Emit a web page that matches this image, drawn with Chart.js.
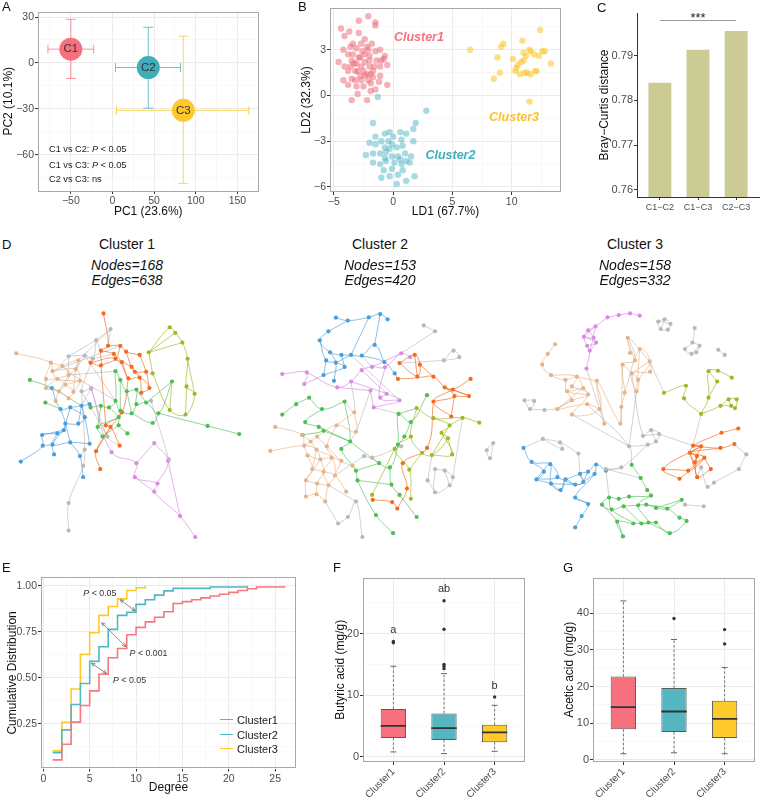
<!DOCTYPE html>
<html>
<head>
<meta charset="utf-8">
<script src="https://cdn.jsdelivr.net/npm/chart.js@4.4.1/dist/chart.umd.min.js"></script>
<style>
body{margin:0;background:#fff;font-family:"Liberation Sans",Arial,sans-serif;overflow:hidden;}
#fig{position:relative;width:760px;height:797px;overflow:hidden;}
canvas{position:absolute;}
.t{position:absolute;white-space:nowrap;color:#111;line-height:13px;}
.lt{font-size:13px;}
.dt{position:absolute;width:200px;text-align:center;font-size:14px;line-height:16px;color:#111;}
.ann{position:absolute;font-size:9.2px;line-height:12px;color:#222;white-space:nowrap;}
.lg{position:absolute;font-size:11px;line-height:14px;color:#222;}
.ln{position:absolute;width:13px;height:0;border-top:1.6px solid;}
</style>
</head>
<body>
<div id="fig">
<canvas id="pca" width="270" height="222" style="left:0;top:0"></canvas>
<canvas id="lda" width="275" height="222" style="left:290px;top:0"></canvas>
<canvas id="bray" width="180" height="222" style="left:580px;top:0"></canvas>
<canvas id="net1" width="260" height="290" style="left:0;top:290px"></canvas>
<canvas id="net2" width="260" height="290" style="left:255px;top:290px"></canvas>
<canvas id="net3" width="255" height="290" style="left:505px;top:290px"></canvas>
<canvas id="cdf" width="300" height="227" style="left:0;top:570px"></canvas>
<canvas id="but" width="230" height="227" style="left:300px;top:570px"></canvas>
<canvas id="ace" width="230" height="227" style="left:530px;top:570px"></canvas>

<div class="t lt" style="left:2px;top:0">A</div>
<div class="t lt" style="left:298px;top:0">B</div>
<div class="t lt" style="left:597px;top:1px">C</div>
<div class="t lt" style="left:2px;top:238px">D</div>
<div class="t lt" style="left:2px;top:561px">E</div>
<div class="t lt" style="left:333px;top:561px">F</div>
<div class="t lt" style="left:563px;top:561px">G</div>

<div class="ann" style="left:49px;top:143px">C1 vs C2: <i>P</i> &lt; 0.05</div>
<div class="ann" style="left:49px;top:159px">C1 vs C3: <i>P</i> &lt; 0.05</div>
<div class="ann" style="left:49px;top:173px">C2 vs C3: ns</div>

<div id="dtitles"></div>

<div class="ln" style="left:220px;top:719px;border-color:#F8767D"></div>
<div class="ln" style="left:220px;top:734px;border-color:#4FB8C3"></div>
<div class="ln" style="left:220px;top:748px;border-color:#FFC828"></div>
<div class="lg" style="left:237px;top:713px">Cluster1</div>
<div class="lg" style="left:237px;top:728px">Cluster2</div>
<div class="lg" style="left:237px;top:742px">Cluster3</div>
</div>

<script>
// ---- A: PCA centroids with error bars
const pcaNames = ['C1', 'C2', 'C3'];
const pcaX = [-50, 43, 85];
const pcaY = [9, -3, -31];
const pcaXlo = [-77.5, 3.6, 4.9];
const pcaXhi = [-22.5, 81.6, 163.8];
const pcaYlo = [-10.2, -29.6, -78.7];
const pcaYhi = [28.5, 23.3, 17.5];

// ---- B: LDA scores
const ldaC1 = [[-4.4,4.4],[-2.9,4.9],[-2.1,5.2],[-1.5,4.8],[-1.5,4.6],[-3.7,4.2],[-2.9,4.1],[-4.1,3.9],[-2.4,3.7],[-1.8,3.4],[-1.1,3.0],[-0.7,2.6],[-0.5,2.0],[-1.1,1.9],[-4.6,2.2],[-3.6,1.9],[-3.8,1.6],[-4.2,1.0],[-3.2,1.0],[-2.5,0.6],[-1.9,0.8],[-1.5,0.4],[-0.5,0.7],[-3.5,-0.3],[-2.2,-0.3],[-3.0,0.1],[-1.2,0.9],[-1.7,1.6],[-2.2,1.4],[-2.8,1.3],[-3.5,2.3],[-2.9,2.5],[-2.4,2.7],[-2.0,2.3],[-1.4,2.3],[-3.1,3.1],[-3.6,3.2],[-2.2,3.2],[-2.7,3.4],[-3.4,3.4],[-1.5,2.9],[-1.0,2.3],[-4.1,1.9],[-3.2,1.6],[-2.7,1.9],[-2.0,1.9],[-2.4,2.2],[-3.1,2.1],[-3.8,2.7],[-3.4,2.7],[-1.7,1.2],[-1.1,1.3],[-3.1,0.6],[-3.8,0.7],[-1.9,0.3],[-4.2,3.0],[-0.8,2.4],[-2.1,1.0],[-2.7,1.0],[-3.5,1.1],[-2.8,2.5],[-2.5,1.6],[-2.0,2.6],[-3.0,1.6],[-1.6,1.9],[-2.4,1.3],[-3.3,2.1],[-2.1,3.0],[-2.6,2.9],[-1.9,1.4]];
const ldaC2 = [[-1.3,-0.1],[2.8,-1.0],[-1.7,-1.8],[1.9,-1.8],[1.7,-2.2],[-0.3,-2.4],[0.6,-2.4],[1.1,-2.5],[-1.5,-2.7],[-2.0,-3.1],[-1.0,-3.0],[-0.4,-3.0],[0.0,-2.7],[0.7,-2.9],[1.7,-3.0],[-0.7,-3.4],[-0.3,-3.5],[0.3,-3.4],[0.8,-3.3],[-2.3,-3.9],[-1.7,-3.8],[-1.1,-3.8],[-0.6,-3.7],[-0.1,-4.0],[0.4,-4.0],[1.0,-3.8],[1.5,-4.0],[-1.7,-4.4],[-1.1,-4.5],[-0.6,-4.3],[0.1,-4.4],[0.7,-4.5],[1.4,-4.4],[-1.0,-5.4],[-0.3,-5.3],[0.3,-5.8],[1.1,-5.6],[1.8,-5.3],[0.4,-5.2],[-0.1,-4.8],[-0.8,-4.9],[0.8,-4.9],[-0.7,-2.5],[-0.1,-3.2],[-0.7,-4.1],[0.6,-4.2],[-1.5,-3.2],[1.1,-4.3]];
const ldaC3 = [[6.5,3.0],[9.1,3.2],[9.3,3.4],[8.8,2.5],[9.0,1.5],[8.5,1.1],[10.9,3.6],[10.1,2.4],[10.5,2.0],[10.3,1.6],[10.7,1.4],[11.0,2.3],[11.2,2.6],[11.0,2.8],[11.6,2.9],[11.9,2.7],[11.3,1.5],[12.0,1.6],[11.5,-0.4],[10.8,2.2],[12.4,4.3],[12.6,2.9],[12.8,2.9],[12.3,2.6],[13.3,2.1],[12.1,1.6],[11.6,1.4],[11.1,1.5],[10.4,1.8],[11.5,3.0]];
const ldaNames = ['Cluster1', 'Cluster2', 'Cluster3'];
const ldaNameX = [2.17, 4.83, 10.2];
const ldaNameY = [3.77, -3.95, -1.43];

// ---- C: Bray-Curtis
const bcPairs = ['C1\u2212C2', 'C1\u2212C3', 'C2\u2212C3'];
const bcDist = [0.7839, 0.7913, 0.7955];
const bcSig = '***';
const bcSigY = 0.798;

// ---- D: networks (layout coordinates)
const netTitles = ['Cluster 1', 'Cluster 2', 'Cluster 3'];
const netNodeCount = [168, 153, 158];
const netEdgeCount = [638, 420, 332];

const net1Nodes = [
  [308,60,'o'],[322,160,'o'],[360,160,'o'],[300,175,'o'],[340,185,'o'],[378,178,'o'],[420,188,'o'],[345,200,'o'],[365,210,'o'],[300,220,'o'],
  [268,212,'o'],[395,225,'o'],[440,240,'o'],[385,260,'o'],[420,258,'o'],[450,290,'o'],[425,305,'o'],[365,365,'o'],[315,405,'o'],[330,410,'o'],
  [358,468,'o'],[285,485,'o'],[298,540,'o'],[405,240,'o'],
  [330,108,'x'],[285,142,'x'],[200,192,'x'],[250,190,'x'],[275,200,'x'],[240,300,'x'],[200,645,'x'],[200,730,'x'],[245,530,'x'],[250,480,'x'],
  [510,510,'x'],[320,440,'x'],[455,330,'x'],[270,290,'x'],
  [38,183,'t'],[145,212,'t'],[180,222,'t'],[200,250,'t'],[165,262,'t'],[130,262,'t'],[150,238,'t'],[222,232,'t'],[190,280,'t'],[215,302,'t'],
  [170,300,'t'],[130,290,'t'],[235,268,'t'],[200,322,'t'],[160,330,'t'],[230,205,'t'],
  [148,290,'b'],[205,350,'b'],[175,355,'b'],[240,345,'b'],[250,380,'b'],[190,400,'b'],[118,435,'b'],[165,430,'b'],[120,468,'b'],[150,465,'b'],
  [205,458,'b'],[185,420,'b'],[265,462,'b'],[155,495,'b'],[235,500,'b'],[52,517,'b'],[245,565,'b'],[230,400,'b'],[265,340,'b'],
  [80,265,'g'],[128,335,'g'],[345,238,'g'],[360,265,'g'],[380,300,'g'],[410,295,'g'],[345,330,'g'],[325,350,'g'],[360,360,'g'],[410,340,'g'],
  [440,335,'g'],[478,368,'g'],[395,368,'g'],[355,380,'g'],[290,410,'g'],[305,440,'g'],[355,405,'g'],[382,430,'g'],[460,398,'g'],[300,345,'g'],
  [268,350,'g'],[630,407,'g'],[728,432,'g'],[520,270,'g'],
  [513,103,'y'],[530,120,'y'],[552,150,'y'],[568,200,'y'],[460,245,'y'],[565,285,'y'],[590,308,'y'],[513,358,'y'],[562,372,'y'],[448,180,'y'],
  [270,292,'p'],[465,460,'p'],[508,515,'p'],[410,522,'p'],[405,565,'p'],[475,585,'p'],[465,610,'p'],[545,685,'p'],[592,750,'p'],[333,488,'p']
];
const net1Edges = [
  ['o',0,1,3,9,10],['o',1,2,5,6],['o',3,4,7,8,11,23,12],['o',4,8,13,14,15,16],['o',5,11,14,16],['o',2,7,9],['o',13,17,18,19,20],['o',17,21,22],['o',6,12,15],['o',10,7,13],['o',9,18],['o',19,21],
  ['x',24,25,26],['x',25,28,27,26],['x',24,1],['x',28,29,37],['x',26,41],['x',27,45,53],['x',29,33,32,30,31],['x',37,35,20],['x',36,34,109],['x',33,68],['x',29,35],['x',37,57],['x',25,3],['x',28,4],['x',27,79],['x',53,24],['x',26,40,79],['x',41,75],['x',44,2],
  ['t',38,39,44,40,41,46,48,52],['t',39,43,42,46,47,51],['t',44,45,50,47],['t',40,53,45,41,42,49,54],['t',43,49,48,51],['t',44,42,50],['t',41,48],['t',45,47],['t',39,40],['t',46,50],
  ['b',54,56,55,57,72],['b',56,59,65,61,60,62,69],['b',55,58,71,59],['b',65,63,67],['b',61,63,64,66],['b',64,68,70],['b',57,58,66],['b',59,64],['b',62,63],['b',60,65],['b',71,57],['b',55,65],
  ['g',73,54,57],['g',74,56],['g',93,92,80,79,75,76,77,78,82,83,84,96],['g',84,94,95],['g',79,81,85,82],['g',80,86,89,90],['g',81,86,87,88],['g',85,91,84],['g',77,85],['g',76,81],['g',92,87],['g',89,88],['g',78,83],['g',96,83],
  ['y',106,97,98,99,100,102,103,105,104,101],['y',106,98],['y',106,99],['y',101,106],['y',100,103],['y',102,105],['y',104,96],
  ['p',107,116,110,111,112,113,114,115],['p',108,109,112],['p',108,110],['p',111,113],['p',109,114]
];

const net2Nodes = [
  [238,73,'b'],[275,82,'b'],[340,72,'b'],[375,62,'b'],[398,78,'b'],[215,115,'b'],[188,143,'b'],[220,180,'b'],[255,188,'b'],[285,188,'b'],
  [318,190,'b'],[358,157,'b'],[208,205,'b'],[238,212,'b'],[265,225,'b'],[200,250,'b'],[232,268,'b'],[388,210,'b'],[420,245,'b'],
  [72,247,'p'],[148,242,'p'],[140,278,'p'],[242,288,'p'],[285,270,'p'],[318,235,'p'],[350,225,'p'],[390,226,'p'],[440,183,'p'],[468,195,'p'],
  [345,298,'p'],[395,308,'p'],[435,328,'p'],[355,350,'p'],[375,320,'p'],
  [435,213,'o'],[482,188,'o'],[498,218,'o'],[490,255,'o'],[430,262,'o'],[540,255,'o'],[575,288,'o'],[600,295,'o'],[655,262,'o'],[650,315,'o'],
  [605,315,'o'],[540,332,'o'],[595,378,'o'],[520,475,'o'],[445,522,'o'],[458,600,'o'],[428,662,'o'],[352,635,'o'],[412,642,'o'],
  [155,320,'g'],[115,340,'g'],[72,372,'g'],[195,355,'g'],[265,332,'g'],[143,395,'g'],[185,410,'g'],[200,422,'g'],[135,435,'g'],[282,455,'g'],
  [255,478,'g'],[372,522,'g'],[405,535,'g'],[430,465,'g'],[432,370,'g'],[470,395,'g'],[520,312,'g'],[410,588,'g'],[435,620,'g'],[305,575,'g'],
  [362,682,'g'],[415,738,'g'],[488,688,'g'],[450,440,'g'],[300,545,'g'],
  [488,352,'y'],[540,383,'y'],[630,382,'y'],[682,397,'y'],[590,405,'y'],[565,428,'y'],[585,445,'y'],[470,440,'y'],[505,490,'y'],[535,497,'y'],
  [598,495,'y'],[420,478,'y'],[465,542,'y'],[470,632,'y'],[350,620,'y'],
  [50,410,'t'],[35,484,'t'],[133,435,'t'],[160,455,'t'],[180,440,'t'],[240,405,'t'],[300,425,'t'],[295,365,'t'],[140,468,'t'],[178,480,'t'],
  [210,470,'t'],[150,498,'t'],[190,510,'t'],[225,505,'t'],[255,515,'t'],[165,540,'t'],[200,548,'t'],[235,560,'t'],[145,575,'t'],[180,585,'t'],
  [215,590,'t'],[145,625,'t'],[178,618,'t'],[205,640,'t'],[270,610,'t'],[290,530,'t'],
  [510,97,'x'],[545,115,'x'],[572,205,'x'],[602,175,'x'],[620,195,'x'],[725,460,'x'],[705,482,'x'],[715,507,'x'],[545,540,'x'],[575,545,'x'],
  [600,565,'x'],[590,590,'x'],[545,612,'x'],[522,575,'x'],[245,708,'x'],[320,750,'x'],[300,640,'x'],[275,688,'x'],[440,470,'x'],[350,505,'x'],
  [325,500,'x']
];
const net2Edges = [
  ['b',0,1,2,3,4],['b',5,6,7,8,9,10,11,17],['b',1,5],['b',6,12,13,14,15],['b',7,13,16],['b',8,14],['b',9,13],['b',10,17,18],['b',12,15],['b',11,3],['b',2,9],
  ['p',19,20,21],['p',20,22,23,24,25,26,27,28],['p',23,30,31,32],['p',26,33,31],['p',24,30],['p',21,15],['p',25,27],['p',30,33],['p',29,22],['p',29,32],
  ['o',34,35,36,37,38],['o',34,37,39,40,41,42],['o',36,39],['o',40,43,44],['o',41,45,46],['o',45,47,48,49,50],['o',51,52,50],['o',44,46],['o',40,44,45],['o',35,37],['o',41,43],['o',38,18],
  ['g',53,54,55],['g',53,56,57],['g',56,58,59,60,61],['g',59,62],['g',57,62,63,77,72,73,74],['g',62,64,65,66,67,68,69],['g',65,70,71],['g',66,76,68],['g',64,77],['g',70,72],['g',71,75],['g',67,78],['g',60,62],
  ['y',78,79,80,81],['y',78,85,86,87,84,83,82,79],['y',80,82],['y',83,88,87],['y',84,88],['y',85,89,90,91],['y',86,90],['y',89,92],['y',87,82],
  ['t',93,95,101,104,108,111,114],['t',94,101,102,105,109,112,115],['t',95,96,102,106,110,113,116],['t',97,103,107,118],['t',96,97,98,99,100],['t',98,103,106,109,113],['t',104,105,106,107],['t',108,109,110,117],['t',111,112,113],['t',114,115,116],['t',101,96],['t',102,108],['t',105,111],['t',107,110],['t',100,98],
  ['x',119,120],['x',121,122,123,121],['x',124,125,126,124],['x',127,128,129,130,131,127],['x',128,130],['x',132,131],['x',132,87],['x',133,136,135,134],['x',116,133],['x',135,113],['x',137,138,139],['x',138,64],['x',139,110],['x',9,31],['x',121,34],['x',120,27],['x',80,129],['x',23,100,57],['x',32,67],['x',29,99,62],['x',10,25]
];

const net3Nodes = [
  [305,72,'p'],[340,65,'p'],[375,60,'p'],[405,67,'p'],[268,100,'p'],[245,112,'p'],[232,132,'p'],[262,135,'p'],[242,160,'p'],[270,150,'p'],
  [250,175,'p'],[240,230,'p'],
  [462,85,'x'],[482,78,'x'],[500,92,'x'],[492,110,'x'],[470,108,'x'],[575,105,'x'],[568,150,'x'],[590,160,'x'],[545,170,'x'],[565,185,'x'],
  [580,180,'x'],[648,172,'x'],[668,188,'x'],[48,328,'x'],[78,330,'x'],[65,355,'x'],[110,358,'x'],[105,447,'x'],[158,458,'x'],[215,492,'x'],
  [165,478,'x'],
  [143,155,'t'],[120,185,'t'],[103,218,'t'],[130,250,'t'],[175,265,'t'],[210,255,'t'],[195,285,'t'],[180,300,'t'],[230,290,'t'],[245,310,'t'],
  [195,328,'t'],[150,355,'t'],[195,372,'t'],[242,340,'t'],[280,355,'t'],[295,400,'t'],[272,268,'t'],[345,400,'t'],[348,348,'t'],[358,305,'t'],
  [352,218,'t'],[390,205,'t'],[368,135,'t'],[375,182,'t'],[405,170,'t'],[436,208,'t'],[400,265,'t'],[437,240,'t'],[395,300,'t'],[380,245,'t'],
  [480,305,'y'],[548,283,'y'],[542,322,'y'],[618,238,'y'],[647,237,'y'],[690,258,'y'],[645,270,'y'],[618,320,'y'],[595,370,'y'],[655,345,'y'],
  [680,325,'y'],[705,325,'y'],[700,352,'y'],[688,345,'y'],
  [415,438,'x'],[440,420,'x'],[465,432,'x'],[455,455,'x'],[430,465,'x'],[372,470,'x'],[348,535,'x'],[300,540,'x'],[595,535,'x'],[615,595,'x'],
  [635,582,'x'],[712,540,'x'],[735,495,'x'],[603,655,'x'],[545,650,'x'],
  [658,428,'o'],[710,415,'o'],[698,463,'o'],[655,475,'o'],[570,468,'o'],[595,470,'o'],[560,490,'o'],[582,500,'o'],[575,520,'o'],[605,505,'o'],
  [555,545,'o'],[478,540,'o'],[528,570,'o'],[583,565,'o'],[625,540,'o'],
  [45,475,'b'],[70,518,'b'],[128,525,'b'],[150,565,'b'],[85,572,'b'],[130,585,'b'],[160,605,'b'],[175,572,'b'],[205,588,'b'],[230,580,'b'],
  [220,555,'b'],[245,548,'b'],[270,526,'b'],[300,545,'b'],[265,555,'b'],[205,628,'b'],[245,648,'b'],[225,685,'b'],[205,720,'b'],[108,548,'b'],
  [380,527,'g'],[408,568,'g'],[428,605,'g'],[440,622,'g'],[372,625,'g'],[340,632,'g'],[310,628,'g'],[288,650,'g'],[318,665,'g'],[355,655,'g'],
  [400,652,'g'],[425,650,'g'],[455,660,'g'],[490,662,'g'],[535,635,'g'],[528,690,'g'],[550,700,'g'],[498,738,'g'],[455,705,'g'],[410,708,'g'],
  [385,708,'g'],[353,748,'g'],[335,702,'g'],[432,705,'g']
];
const net3Edges = [
  ['p',0,1,2,3],['p',0,4,5,6,8,10,11],['p',4,7,9,10],['p',5,7,6,9,8],['p',4,6],['p',7,10],
  ['x',12,13,14,15,16,12,14],['x',13,16],['x',17,18,20,21,22,19,18],['x',19,21],['x',23,24],['x',25,26,27,25],['x',27,28],['x',29,30,31],['x',30,32,29],['x',31,117],['x',29,107],['x',28,44],
  ['t',33,34,35,36,37,38,39,40,41],['t',36,38,41,42,43,44],['t',37,40,42],['t',39,42,45,47,49],['t',41,44],['t',43,44,46,47],['t',40,43],['t',48,49,50,51,52,53,54,55,56],['t',50,51,53],['t',52,57,58,59],['t',54,55,58],['t',53,59,61,62,60,58],['t',57,61],['t',62,58],['t',38,49],
  ['x',58,63],['y',63,64,65,71],['y',71,70,66,67,68],['y',66,69],['y',71,72,73,74,75,76,72],['y',73,76],['y',69,70],
  ['x',46,82,127],['x',62,77,78,79,80,81,82],['x',77,79],['x',80,78],['x',81,83,84],['x',84,128],['x',85,86,87,88],['x',89,88],['x',91,90],['x',71,96],['x',45,82],['x',85,105],['x',83,120],['x',89,94],['x',82,61],['x',84,133],['x',11,48],['x',79,96],
  ['o',92,93],['o',92,96,97,98,99,100,101,102],['o',94,95,96,97,99,105,106],['o',96,98,100],['o',95,98,101,104],['o',97,103,104],['o',102,103],['o',101,106],['o',99,100],['o',98,105],
  ['b',107,108,109,110,111,112,113,114,115,116,117,118,119,120],['b',108,126,111,109,112,113,114],['b',110,115,116,117],['b',112,115],['b',119,121,122,123,124,125],['b',122,123],['b',114,117],['b',116,118],['b',121,116],
  ['g',127,128,129,130,131,132,133,134,135,136,137,138,139,140,141],['g',133,135,147,149,148],['g',130,137,150,146],['g',138,140,142,143,144,145],['g',139,141],['g',136,146],['g',145,147],['g',134,149,148],['g',150,144]
];

// ---- E: cumulative degree distribution
const degC1 = [1,2,3,4,5,6,7,8,9,10,11,12,13,14,15,16,17,18,19,20,21,22,23,26];
const cdfC1 = [0.055,0.14,0.26,0.35,0.43,0.52,0.61,0.66,0.735,0.775,0.805,0.83,0.86,0.905,0.915,0.925,0.935,0.945,0.955,0.965,0.975,0.985,0.994,1.0];
const degC2 = [1,2,3,4,5,6,7,8,9,10,11,12,13,14,18,22];
const cdfC2 = [0.094,0.218,0.356,0.47,0.59,0.67,0.764,0.84,0.857,0.90,0.925,0.95,0.973,0.987,0.994,1.0];
const degC3 = [1,2,3,4,5,6,7,8,9,10,11];
const cdfC3 = [0.104,0.259,0.44,0.628,0.746,0.84,0.888,0.93,0.975,0.99,1.0];
const arrowsE = [[8.3,0.925,9.9,0.865],[6.3,0.80,8.9,0.67],[5.2,0.58,6.8,0.525]];
const pTextE = [[6.1,0.958,'< 0.05'],[11.35,0.63,'< 0.001'],[9.3,0.484,'< 0.05']];

// ---- F / G: boxplots
const groups = ['Cluster1', 'Cluster2', 'Cluster3'];
const butLo = [0.8, 0.53, 0.9];
const butQ1 = [3.07, 2.75, 2.38];
const butMed = [5.03, 4.66, 3.97];
const butQ3 = [7.78, 7.04, 5.19];
const butHi = [14.7, 13.5, 8.36];
const butOut = [[18.5, 18.7], [14.3, 14.7, 15.0, 20.7, 25.3], [9.7]];
const butLetters = ['a', 'ab', 'b'];
const butLetterY = [20.6, 27.2, 11.5];
const aceLo = [1.7, 1.96, 1.7];
const aceQ1 = [8.36, 7.6, 5.96];
const aceMed = [14.4, 13.2, 11.2];
const aceQ3 = [22.7, 19.6, 16.1];
const aceHi = [43.3, 32.8, 25.2];
const aceOut = [[], [38.5], [31.6, 35.5]];

const RED = '#F6707E', CYAN = '#40AEB9', YEL = '#FDC82F';

Chart.defaults.font.family = '"Liberation Sans", Arial, sans-serif';
Chart.defaults.animation = false;
Chart.defaults.plugins.legend.display = false;
Chart.defaults.plugins.tooltip.enabled = false;
Chart.defaults.responsive = false;

function tickList(min, max, step, minor) {
  const out = [];
  for (let v = Math.ceil(min / minor - 1e-9) * minor; v <= max + 1e-9; v += minor) {
    const r = Math.round(v * 1e6) / 1e6;
    out.push({ value: r, mj: Math.abs(r / step - Math.round(r / step)) < 1e-6 });
  }
  return out;
}
function fmt(v, d) {
  const s = Math.abs(v).toFixed(d);
  return v < -1e-9 ? '\u2212' + s : s;
}

// ggplot theme_bw-ish axis
function bwAxis(o) {
  return {
    type: 'linear', min: o.min, max: o.max, offset: false,
    afterBuildTicks: s => { s.ticks = o.list || tickList(o.min, o.max, o.step, o.minor); },
    afterFit: s => { if (s.isHorizontal()) s.height = o.size; else s.width = o.size; },
    ticks: {
      autoSkip: false, maxRotation: o.rot || 0, minRotation: o.rot || 0, color: '#4D4D4D',
      font: { size: o.fs || 10.5 }, padding: o.tp != null ? o.tp : 1,
      callback: (v, i, t) => !t[i].mj ? '' : (o.names ? o.names[Math.round(v) - 1] : fmt(v, o.dec || 0))
    },
    grid: {
      display: o.grid !== false,
      drawOnChartArea: o.grid !== false && !o.classic,
      color: c => (c.tick && c.tick.mj) ? '#EBEBEB' : '#F3F3F3',
      lineWidth: c => (c.tick && c.tick.mj) ? 1 : 0.6,
      tickColor: c => (c.tick && c.tick.mj) ? '#333' : 'rgba(0,0,0,0)',
      tickLength: 3, offset: false
    },
    border: o.classic ? { display: true, color: '#333', width: 1 } : { display: false },
    title: { display: !!o.title, text: o.title, color: '#111', font: { size: 12 }, padding: o.tpad || 0 }
  };
}

function frame(color) {
  return { id: 'frame', afterDatasetsDraw(chart) {
    const a = chart.chartArea, c = chart.ctx;
    c.save(); c.strokeStyle = color; c.lineWidth = 1;
    c.strokeRect(Math.round(a.left) + 0.5, Math.round(a.top) + 0.5, Math.round(a.right - a.left) - 1, Math.round(a.bottom - a.top) - 1);
    c.restore();
  } };
}

function notes(items) {
  return { id: 'notes', afterDraw(chart) {
    const c = chart.ctx, sx = chart.scales.x, sy = chart.scales.y;
    c.save(); c.textBaseline = 'middle'; c.textAlign = 'left';
    items.forEach(it => {
      const px = sx.getPixelForValue(it.x) + (it.dx || 0), py = sy.getPixelForValue(it.y) + (it.dy || 0);
      const parts = it.parts || [[it.text, it.font]];
      let w = 0;
      parts.forEach(p => { c.font = p[1]; w += c.measureText(p[0]).width; });
      let x0 = px - w / 2;
      c.fillStyle = it.color;
      parts.forEach(p => { c.font = p[1]; c.fillText(p[0], x0, py); x0 += c.measureText(p[0]).width; });
    });
    c.restore();
  } };
}

// ---------- A
(function () {
  const cols = [RED, CYAN, YEL];
  const bars = ['rgba(246,112,126,0.75)', 'rgba(64,174,185,0.75)', 'rgba(253,200,47,0.8)'];
  const ds = [];
  pcaNames.forEach((n, i) => {
    ds.push({ data: [{ x: pcaX[i], y: pcaY[i] }], pointRadius: 11.5, pointBackgroundColor: cols[i], pointBorderWidth: 0, order: 1 });
  });
  pcaNames.forEach((n, i) => {
    ds.push({ data: [{ x: pcaXlo[i], y: pcaY[i] }, { x: pcaXhi[i], y: pcaY[i] }], showLine: true, borderColor: bars[i], borderWidth: 1,
      pointStyle: 'line', rotation: 90, pointRadius: 4.5, pointBorderColor: bars[i], pointBorderWidth: 1, order: 2 });
    ds.push({ data: [{ x: pcaX[i], y: pcaYlo[i] }, { x: pcaX[i], y: pcaYhi[i] }], showLine: true, borderColor: bars[i], borderWidth: 1,
      pointStyle: 'line', rotation: 0, pointRadius: 5, pointBorderColor: bars[i], pointBorderWidth: 1, order: 2 });
  });
  new Chart('pca', {
    type: 'scatter',
    data: { datasets: ds },
    options: {
      layout: { padding: { top: 8, right: 3, left: 0, bottom: 0 } },
      scales: {
        x: bwAxis({ min: -89.4, max: 175.3, step: 50, minor: 25, size: 31, title: 'PC1 (23.6%)', tpad: { top: 0, bottom: 3 } }),
        y: bwAxis({ min: -83.7, max: 33.6, step: 30, minor: 15, size: 38, title: 'PC2 (10.1%)', tpad: { top: 1, bottom: 0 } })
      }
    },
    plugins: [frame('#A8A8A8'), notes(pcaNames.map((n, i) => ({ x: pcaX[i], y: pcaY[i], text: n, font: '11.5px "Liberation Sans", Arial', color: '#333' })))]
  });
})();

// ---------- B
(function () {
  const toPts = a => a.map(p => ({ x: p[0], y: p[1] }));
  const fills = ['rgba(236,100,112,0.5)', 'rgba(64,174,188,0.45)', 'rgba(253,196,40,0.55)'];
  const sets = [ldaC1, ldaC2, ldaC3];
  const txt = [RED, '#3FAFBB', '#FDC22A'];
  new Chart('lda', {
    type: 'scatter',
    data: { datasets: sets.map((s, i) => ({ data: toPts(s), pointRadius: 3.2, pointBackgroundColor: fills[i], pointBorderWidth: 0 })) },
    options: {
      layout: { padding: { top: 8, right: 2 } },
      scales: {
        x: bwAxis({ min: -5.33, max: 14.16, step: 5, minor: 2.5, size: 30, title: 'LD1 (67.7%)', tpad: { top: 0, bottom: 3 } }),
        y: bwAxis({ min: -6.33, max: 5.74, step: 3, minor: 1.5, size: 40, title: 'LD2 (32.3%)', tpad: { top: 9, bottom: 0 } })
      }
    },
    plugins: [frame('#A8A8A8'), notes(ldaNames.map((n, i) => ({ x: ldaNameX[i], y: ldaNameY[i], text: n, font: 'italic bold 12.5px "Liberation Sans", Arial', color: txt[i] })))]
  });
})();

// ---------- C
(function () {
  const sig = { id: 'sig', afterDraw(chart) {
    const c = chart.ctx, sx = chart.scales.x, sy = chart.scales.y;
    const y = Math.round(sy.getPixelForValue(bcSigY)) + 0.5;
    c.save(); c.strokeStyle = '#9A9A9A'; c.lineWidth = 1;
    c.beginPath(); c.moveTo(sx.getPixelForValue(1), y); c.lineTo(sx.getPixelForValue(3), y); c.stroke();
    c.fillStyle = '#222'; c.font = '13px "Liberation Sans", Arial'; c.textAlign = 'center'; c.textBaseline = 'alphabetic';
    c.fillText(bcSig, sx.getPixelForValue(2), y + 1);
    c.restore();
  } };
  new Chart('bray', {
    type: 'bar',
    data: { datasets: [{ data: bcDist.map((v, i) => ({ x: i + 1, y: v })), backgroundColor: '#CACB95', barPercentage: 0.6, categoryPercentage: 1, borderWidth: 0 }] },
    options: {
      layout: { padding: { top: 13, right: 1 } },
      scales: {
        x: bwAxis({ min: 0.4, max: 3.6, list: [1, 2, 3].map(v => ({ value: v, mj: true })), names: bcPairs, size: 25, fs: 9, classic: true, tp: 2 }),
        y: bwAxis({ min: 0.7584, max: 0.7995, step: 0.01, minor: 0.01, dec: 2, size: 57, fs: 11, classic: true, title: 'Bray\u2212Curtis distance', tpad: { top: 17, bottom: 0 } })
      }
    },
    plugins: [sig]
  });
})();

// ---------- D
const netCol = { x: '#B9B9B9', t: '#E3B58E', b: '#4A9FDB', g: '#4EBE56', o: '#F46A1E', y: '#A2B822', p: '#DA8BE2' };
const netLine = { x: 'rgba(175,175,175,0.7)', t: 'rgba(225,175,130,0.75)', b: 'rgba(70,155,215,0.8)', g: 'rgba(78,190,86,0.8)', o: 'rgba(244,106,30,0.85)', y: 'rgba(162,184,34,0.85)', p: 'rgba(218,139,226,0.85)' };
function netChart(id, nodes, edges, w) {
  const keys = ['x', 't', 'b', 'g', 'o', 'y', 'p'];
  const ds = [];
  keys.forEach(k => {
    const pts = [];
    edges.filter(e => e[0] === k).forEach(e => {
      e.slice(1).forEach(i => pts.push({ x: nodes[i][0], y: nodes[i][1] }));
      pts.push({ x: nodes[e[e.length - 1]][0], y: null });
    });
    if (pts.length) ds.push({ data: pts, showLine: true, borderColor: netLine[k], borderWidth: 0.8, pointRadius: 0, tension: 0.4, spanGaps: false, order: k === 'x' ? 3 : 2 });
  });
  keys.forEach(k => {
    ds.push({ data: nodes.filter(n => n[2] === k).map(n => ({ x: n[0], y: n[1] })), pointRadius: 2.1, pointBackgroundColor: netCol[k], pointBorderWidth: 0, order: 1 });
  });
  new Chart(id, {
    type: 'scatter',
    data: { datasets: ds },
    options: {
      layout: { padding: 0 },
      scales: { x: { display: false, min: 0, max: w }, y: { display: false, min: 0, max: 870, reverse: true } }
    }
  });
}
netChart('net1', net1Nodes, net1Edges, 780);
netChart('net2', net2Nodes, net2Edges, 780);
netChart('net3', net3Nodes, net3Edges, 765);

(function () {
  const cx = [127, 380, 635];
  const box = document.getElementById('dtitles');
  netTitles.forEach((t, i) => {
    box.insertAdjacentHTML('beforeend',
      '<div class="dt" style="left:' + (cx[i] - 100) + 'px;top:236px">' + t + '</div>' +
      '<div class="dt" style="left:' + (cx[i] - 100) + 'px;top:257px"><i>Nodes=' + netNodeCount[i] + '</i></div>' +
      '<div class="dt" style="left:' + (cx[i] - 100) + 'px;top:272px"><i>Edges=' + netEdgeCount[i] + '</i></div>');
  });
})();

// ---------- E
(function () {
  const mk = (d, c) => d.map((v, i) => ({ x: v, y: c[i] }));
  const arrows = { id: 'arrows', afterDatasetsDraw(chart) {
    const c = chart.ctx, sx = chart.scales.x, sy = chart.scales.y;
    const head = (xt, yt, xf, yf) => {
      const a = Math.atan2(yt - yf, xt - xf), L = 4;
      c.beginPath();
      c.moveTo(xt - L * Math.cos(a - 0.45), yt - L * Math.sin(a - 0.45));
      c.lineTo(xt, yt);
      c.lineTo(xt - L * Math.cos(a + 0.45), yt - L * Math.sin(a + 0.45));
      c.stroke();
    };
    c.save(); c.strokeStyle = '#707070'; c.lineWidth = 0.8;
    arrowsE.forEach(r => {
      const x1 = sx.getPixelForValue(r[0]), y1 = sy.getPixelForValue(r[1]), x2 = sx.getPixelForValue(r[2]), y2 = sy.getPixelForValue(r[3]);
      c.beginPath(); c.moveTo(x1, y1); c.lineTo(x2, y2); c.stroke();
      head(x1, y1, x2, y2); head(x2, y2, x1, y1);
    });
    c.restore();
  } };
  const f = '"Liberation Sans", Arial';
  new Chart('cdf', {
    type: 'line',
    data: { datasets: [
      { data: mk(degC1, cdfC1), borderColor: '#F8767D', borderWidth: 1.6, pointRadius: 0, stepped: 'before' },
      { data: mk(degC2, cdfC2), borderColor: '#4FB8C3', borderWidth: 1.6, pointRadius: 0, stepped: 'before' },
      { data: mk(degC3, cdfC3), borderColor: '#FFC828', borderWidth: 1.6, pointRadius: 0, stepped: 'before' }
    ] },
    options: {
      layout: { padding: { top: 4, right: 4 } },
      scales: {
        x: bwAxis({ min: -0.25, max: 27.25, step: 5, minor: 2.5, size: 28.5, title: 'Degree', tpad: { top: 0, bottom: 2 } }),
        y: bwAxis({ min: 0.008, max: 1.047, step: 0.25, minor: 0.125, dec: 2, size: 41, title: 'Cumulative Distribution', tpad: { top: 5, bottom: 0 } })
      }
    },
    plugins: [frame('#A8A8A8'), arrows, notes(pTextE.map(p => ({ x: p[0], y: p[1], color: '#333', parts: [['P', 'italic 8.8px ' + f], [' ' + p[2], '8.8px ' + f]] })))]
  });
})();

// ---------- F / G
function boxChart(id, lo, q1, med, q3, hi, outs, ymin, ymax, ytitle, tpad, letters, letterY) {
  const fills = [RED, '#55B6C1', '#FECA2C'];
  const boxW = 0.5;
  const whisk = [], caps = [], meds = [], pts = [];
  groups.forEach((g, i) => {
    const v = i + 1;
    whisk.push({ x: v, y: q3[i] }, { x: v, y: hi[i] }, { x: v, y: null }, { x: v, y: q1[i] }, { x: v, y: lo[i] }, { x: v, y: null });
    caps.push({ x: v, y: hi[i] }, { x: v, y: lo[i] });
    meds.push({ x: v, y: med[i] });
    outs[i].forEach(o => pts.push({ x: v, y: o }));
  });
  const half = c => { const s = c.chart.scales.x; return s.getPixelForValue(1 + boxW / 2) - s.getPixelForValue(1); };
  const items = (letters || []).map((t, i) => ({ x: i + 1, y: letterY[i], text: t, font: '11px "Liberation Sans", Arial', color: '#333' }));
  new Chart(id, {
    type: 'bar',
    data: { datasets: [
      { type: 'line', data: pts, showLine: false, pointRadius: 1.7, pointBackgroundColor: '#333', pointBorderWidth: 0 },
      { type: 'line', data: meds, showLine: false, pointStyle: 'line', pointRadius: half, pointBorderColor: '#333', pointBorderWidth: 1.8 },
      { type: 'bar', data: q1.map((v, i) => ({ x: i + 1, y: [v, q3[i]] })), backgroundColor: fills, borderColor: '#5A5A5A', borderWidth: 1, borderSkipped: false, barPercentage: boxW, categoryPercentage: 1 },
      { type: 'line', data: caps, showLine: false, pointStyle: 'line', pointRadius: 3, pointBorderColor: '#666', pointBorderWidth: 1 },
      { type: 'line', data: whisk, borderColor: '#666', borderWidth: 0.9, borderDash: [2.5, 2], pointRadius: 0, spanGaps: false }
    ] },
    options: {
      layout: { padding: { top: 3.3, right: 2 } },
      scales: {
        x: bwAxis({ min: 0.4, max: 3.6, list: [1, 2, 3].map(v => ({ value: v, mj: true })), names: groups, size: 35, fs: 10, rot: 45, tp: 1 }),
        y: bwAxis({ min: ymin, max: ymax, step: 10, minor: 5, size: 63, fs: 11, title: ytitle, tpad: { top: tpad, bottom: 0 } })
      }
    },
    plugins: [frame('#A8A8A8'), notes(items)]
  });
}
boxChart('but', butLo, butQ1, butMed, butQ3, butHi, butOut, -0.83, 29.06, 'Butyric acid (mg/g)', 33, butLetters, butLetterY);
boxChart('ace', aceLo, aceQ1, aceMed, aceQ3, aceHi, aceOut, -0.55, 49.65, 'Acetic acid (mg/g)', 32, null, null);
</script>
</body>
</html>
